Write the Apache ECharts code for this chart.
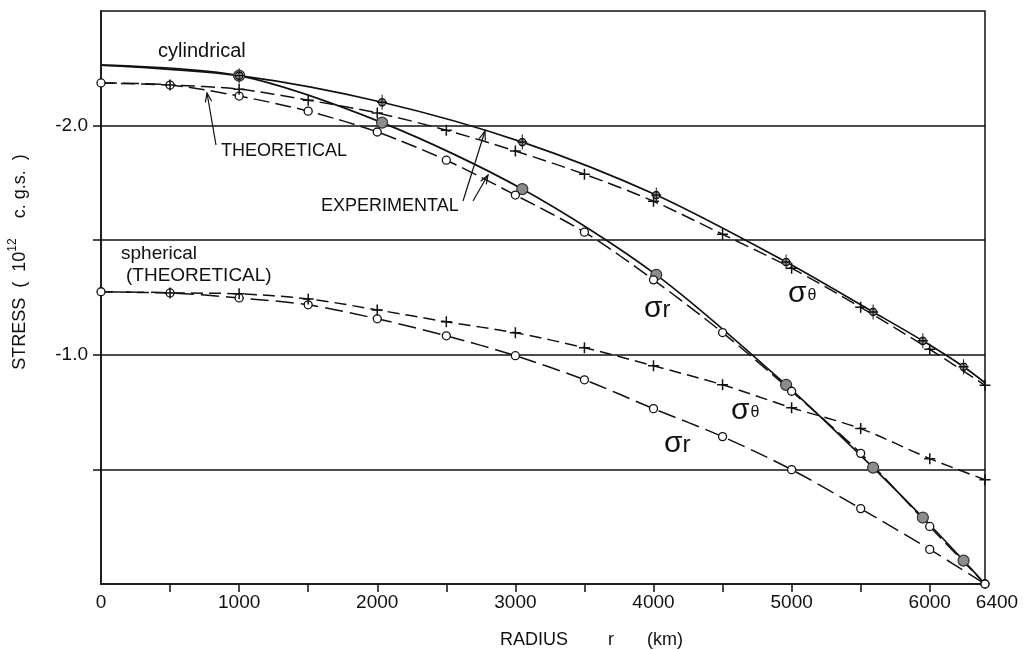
<!DOCTYPE html>
<html><head><meta charset="utf-8">
<script src="https://cdn.jsdelivr.net/npm/echarts@6/dist/echarts.min.js"></script>
<style>html,body{margin:0;padding:0;background:#fff}#c{width:1025px;height:650px}</style>
</head><body><div id="c"></div>
<script>
// ---- data (radius in km, stress in 10^12 c.g.s.) ----
const radiusTheory = [0,500,1000,1500,2000,2500,3000,3500,4000,4500,5000,5500,6000,6400];
const cylSigmaRTheory = [-2.186,-2.177,-2.129,-2.063,-1.972,-1.849,-1.697,-1.535,-1.327,-1.097,-0.841,-0.570,-0.251,0];
const cylSigmaThetaTheory = [-2.186,-2.177,-2.159,-2.111,-2.055,-1.980,-1.889,-1.788,-1.670,-1.526,-1.378,-1.207,-1.024,-0.867];
const sphSigmaRTheory = [-1.275,-1.270,-1.248,-1.218,-1.157,-1.083,-0.996,-0.891,-0.765,-0.643,-0.499,-0.329,-0.151,0];
const sphSigmaThetaTheory = [-1.275,-1.270,-1.266,-1.244,-1.196,-1.144,-1.096,-1.031,-0.952,-0.869,-0.769,-0.678,-0.547,-0.455];
const radiusExp = [0,1000,2035,3050,4020,4960,5590,5950,6245,6400];
const cylSigmaRExp = [-2.264,-2.218,-2.013,-1.723,-1.349,-0.869,-0.508,-0.290,-0.102,0];
const cylSigmaThetaExp = [-2.264,-2.218,-2.102,-1.928,-1.697,-1.405,-1.187,-1.061,-0.948,-0.878];
const xTickValues = [500,1000,1500,2000,2500,3000,3500,4000,4500,5000,5500,6000];
const xTickLabels = [0,1000,2000,3000,4000,5000,6000,6400];
const yTickValues = [-2.0,-1.5,-1.0,-0.5];
const yTickLabels = [-2.0,-1.0];

const FONT = '"Liberation Sans", Arial, sans-serif';
const INK = '#111';
const CROSS = 'path://M0,5L10,5M5,0L5,10';
const EXPTH = 'path://M5,0L5,15M0,7.5L10,7.5M8.6,7.5A3.6,3.6,0,1,1,1.4,7.5A3.6,3.6,0,1,1,8.6,7.5Z';

function pairs(xs, ys, hideIdx) {
  return xs.map((x, i) => {
    const o = { value: [x, ys[i]] };
    if (hideIdx && hideIdx.includes(i)) o.symbol = 'none';
    return o;
  });
}

const openCircle = { symbol: 'circle', symbolSize: 8, itemStyle: { color: '#fff', borderColor: INK, borderWidth: 1.3 } };
const crossMark = { symbol: CROSS, symbolSize: 11, itemStyle: { color: 'rgba(0,0,0,0)', borderColor: INK, borderWidth: 1.5 } };

const series = [
  { name: 'cyl σr exp', type: 'line', smooth: 0.3,
    data: pairs(radiusExp, cylSigmaRExp, [0, radiusExp.length - 1]),
    lineStyle: { color: INK, width: 1.7 },
    symbol: 'circle', symbolSize: 11,
    itemStyle: { color: '#8c8c8c', borderColor: '#333', borderWidth: 1.2 } },
  { name: 'cyl σθ exp', type: 'line', smooth: 0.3,
    data: pairs(radiusExp, cylSigmaThetaExp, [0, radiusExp.length - 1]),
    lineStyle: { color: INK, width: 1.7 },
    symbol: EXPTH, symbolSize: [10, 15],
    itemStyle: { color: '#8c8c8c', borderColor: INK, borderWidth: 1.2 } },
  Object.assign({ name: 'cyl σr theory', type: 'line', smooth: 0.3,
    data: pairs(radiusTheory, cylSigmaRTheory),
    lineStyle: { color: INK, width: 1.5, type: [16, 6] } }, openCircle),
  Object.assign({ name: 'cyl σθ theory', type: 'line', smooth: 0.3,
    data: pairs(radiusTheory, cylSigmaThetaTheory, [0]),
    lineStyle: { color: INK, width: 1.5, type: [14, 6] } }, crossMark),
  Object.assign({ name: 'sph σr theory', type: 'line', smooth: 0.3,
    data: pairs(radiusTheory, sphSigmaRTheory),
    lineStyle: { color: INK, width: 1.5, type: [18, 7] } }, openCircle),
  Object.assign({ name: 'sph σθ theory', type: 'line', smooth: 0.3,
    data: pairs(radiusTheory, sphSigmaThetaTheory, [0]),
    lineStyle: { color: INK, width: 1.5, type: [12, 6] } }, crossMark)
];
series.forEach(s => { s.animation = false; s.emphasis = { disabled: true }; s.z = 3; });

function arrow(x1, y1, x2, y2) {
  const dx = x2 - x1, dy = y2 - y1, L = Math.hypot(dx, dy);
  const ux = dx / L, uy = dy / L, h = 9, w = 3.2;
  const bx = x2 - ux * h, by = y2 - uy * h;
  return [
    { type: 'line', shape: { x1, y1, x2, y2 }, style: { stroke: INK, lineWidth: 1.2 } },
    { type: 'polyline', shape: { points: [[bx - uy * w, by + ux * w], [x2, y2], [bx + uy * w, by - ux * w]] },
      style: { stroke: INK, lineWidth: 1.2, fill: null } }
  ];
}
function txt(x, y, text, size, extra) {
  return Object.assign({ type: 'text', x, y, z: 10,
    style: { text, fontSize: size, fontFamily: FONT, fill: INK, verticalAlign: 'middle', align: 'left' } }, extra || {});
}
function sigma(x, y, sub, subSize) {
  return { type: 'text', x, y, z: 10,
    style: { text: '{s|σ}{b|' + sub + '}', verticalAlign: 'middle', align: 'left', fill: INK,
      rich: { s: { fontSize: 30, fontFamily: FONT, fill: INK },
              b: { fontSize: subSize, fontFamily: FONT, fill: INK, padding: sub === 'θ' ? [4, 0, 0, 1] : [2, 0, 0, 0] } } } };
}

const graphic = [
  txt(158, 51, 'cylindrical', 20),
  txt(221, 151.5, 'THEORETICAL', 18),
  ...arrow(216, 145, 207, 93),
  txt(321, 206.5, 'EXPERIMENTAL', 18),
  ...arrow(463, 201, 485, 131),
  ...arrow(473, 201, 488, 175),
  txt(121, 254, 'spherical', 19),
  txt(126, 276, '(THEORETICAL)', 19),
  sigma(644, 309, 'r', 24),
  sigma(788, 294, 'θ', 16),
  sigma(731, 411, 'θ', 16),
  sigma(664, 444, 'r', 24),
  txt(500, 640, 'RADIUS', 18),
  txt(608, 640, 'r', 18),
  txt(647, 640, '(km)', 18),
  { type: 'text', x: 20, y: 262, rotation: Math.PI / 2, z: 10,
    style: { text: 'STRESS  (  10{sup|12}    c. g.s.  )', fontSize: 18, fontFamily: FONT, fill: INK,
      align: 'center', verticalAlign: 'middle', lineHeight: 26,
      rich: { sup: { fontSize: 12, fontFamily: FONT, fill: INK, verticalAlign: 'top', lineHeight: 26 } } } }
];

const chart = echarts.init(document.getElementById('c'), null, { renderer: 'canvas' });
chart.setOption({
  animation: false,
  backgroundColor: '#fff',
  grid: { left: 101, right: 40, top: 11, bottom: 66, show: true, borderColor: INK, borderWidth: 1.5, backgroundColor: 'transparent' },
  xAxis: {
    type: 'value', min: 0, max: 6400, interval: 500,
    axisLine: { show: true, lineStyle: { color: INK, width: 1.5 } },
    axisTick: { show: true, inside: false, length: 8, customValues: xTickValues, lineStyle: { color: INK, width: 1.5 } },
    splitLine: { show: false },
    axisLabel: {
      show: true, margin: 9, color: INK, fontSize: 19, fontFamily: FONT, customValues: xTickLabels,
      formatter: v => (Number(v) === 6400 ? '{last|6400}' : String(v)),
      rich: { last: { fontSize: 19, fontFamily: FONT, color: INK, padding: [0, 0, 0, 24] } }
    }
  },
  yAxis: {
    type: 'value', min: -2.5, max: 0, interval: 0.5, inverse: true,
    axisLine: { show: true, lineStyle: { color: INK, width: 1.5 } },
    axisTick: { show: true, inside: false, length: 8, customValues: yTickValues, lineStyle: { color: INK, width: 1.5 } },
    splitLine: { show: true, lineStyle: { color: INK, width: 1.5 } },
    axisLabel: {
      show: true, margin: 13, color: INK, fontSize: 19, fontFamily: FONT, customValues: yTickLabels,
      formatter: v => Number(v).toFixed(1)
    }
  },
  series,
  graphic
});
</script></body></html>
